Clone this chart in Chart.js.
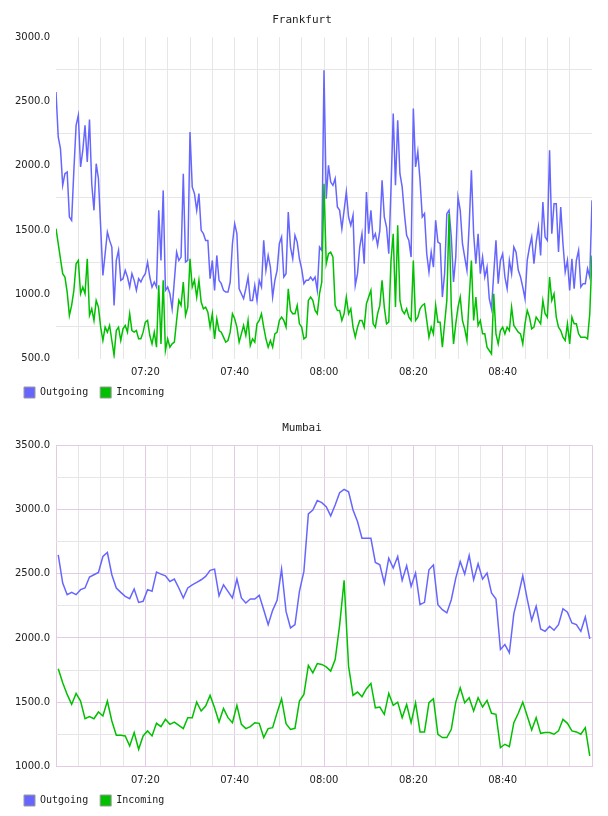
<!DOCTYPE html>
<html>
<head>
<meta charset="utf-8">
<script src="https://cdn.jsdelivr.net/npm/chart.js@4/dist/chart.umd.min.js"></script>
<style>
  html, body { margin: 0; padding: 0; background: #fff; }
  body { width: 608px; height: 816px; position: relative; overflow: hidden; }
  .box { position: absolute; left: 0; width: 608px; height: 408px; }
  #b1 { top: 0; }
  #b2 { top: 408px; }
</style>
</head>
<body>
<div class="box" id="b1"><canvas id="c1" width="608" height="408"></canvas></div>
<div class="box" id="b2"><canvas id="c2" width="608" height="408"></canvas></div>
<script>
// ---- Data ----
const seriesNames = ["Outgoing", "Incoming"];
const seriesColors = ["#6666ff", "#00c000"];
const xTickLabels = ["07:20", "07:40", "08:00", "08:20", "08:40"];

// Frankfurt: samples every 30 s starting 07:00:00
const frankfurtStart = "07:00:00";
const frankfurtStepSec = 30;
const frankfurtOutgoing = [
2574,2224,2133,1848,1938,1951,1601,1575,1964,2315,2393,1990,2120,2315,2029,2359,1860,1653,2016,1899,
1523,1147,1315,1484,1419,1367,913,1263,1341,1108,1121,1186,1134,1056,1160,1108,1030,1121,1095,1134,
1160,1250,1134,1056,1095,1056,1653,1263,1808,1030,1056,1004,887,1108,1328,1263,1289,1938,1250,1263,
2263,1835,1783,1653,1783,1497,1471,1419,1419,1121,1263,1030,1302,1108,1082,1030,1017,1017,1095,1393,
1549,1471,1043,1004,965,1043,1134,952,952,1069,952,1108,1056,1419,1186,1302,1211,978,1108,1186,
1393,1445,1134,1160,1640,1367,1276,1458,1406,1276,1198,1082,1108,1108,1134,1108,1134,1030,1367,1341,
2743,1744,2003,1873,1847,1900,1679,1653,1510,1653,1796,1601,1536,1614,1069,1160,1367,1471,1237,1796,
1471,1653,1432,1471,1380,1497,1886,1601,1523,1315,1822,2406,1848,2354,1938,1835,1627,1458,1419,1289,
2445,1990,2110,1886,1601,1627,1315,1173,1328,1211,1575,1406,1393,978,1160,1627,1653,1445,1095,1289,
1757,1653,1393,1289,1186,1536,1964,1471,1237,1471,1160,1289,1134,1211,965,887,1160,1419,1082,1263,
1315,1134,1043,1263,1160,1367,1328,1186,1134,1056,965,1263,1367,1445,1237,1406,1523,1302,1718,1445,
1419,2120,1471,1705,1705,1328,1679,1393,1173,1263,1030,1276,1043,1263,1341,1056,1082,1082,1199,1134,
1731
];
const frankfurtIncoming = [
1510,1393,1276,1160,1134,1017,835,913,1030,1237,1263,1004,1056,1004,1276,835,887,796,952,900,
744,640,744,705,757,640,524,718,744,640,731,757,705,848,718,705,718,653,653,705,
783,796,679,614,705,588,1069,614,1108,562,653,588,614,627,796,952,913,1095,835,900,
1276,1056,1108,978,1108,939,887,900,861,744,848,653,809,718,705,666,627,640,705,848,
809,744,627,692,757,679,796,601,653,627,770,796,848,744,653,588,640,588,692,705,
796,822,796,744,1043,874,848,848,913,770,744,653,666,952,978,952,874,848,1004,1095,
1860,1237,1315,1328,1289,913,874,874,796,848,978,848,887,744,666,744,796,796,744,926,
978,1030,770,744,848,913,1108,900,770,783,1263,1471,900,1536,952,874,848,887,822,796,
1263,796,822,887,913,926,796,666,744,692,913,783,783,588,770,952,1627,900,614,770,
900,978,796,731,640,965,1263,796,978,757,796,692,692,588,562,536,1004,692,614,718,
744,692,744,718,900,757,731,705,692,614,770,874,822,731,744,822,796,770,952,848,
822,1134,952,1004,822,744,718,666,640,770,614,822,770,770,692,666,666,666,653,848,
1302
];

// Mumbai: samples every 60 s starting 07:00:30
const mumbaiStart = "07:00:30";
const mumbaiStepSec = 60;
const mumbaiOutgoing = [
2647,2427,2337,2355,2337,2376,2389,2474,2492,2510,2634,2665,2492,2389,2355,2324,2306,2381,2277,2285,
2376,2363,2513,2497,2484,2440,2458,2389,2311,2389,2414,2432,2453,2479,2526,2536,2329,2414,2363,2311,
2458,2311,2272,2303,2303,2332,2220,2104,2215,2293,2536,2207,2078,2104,2363,2518,2965,2996,3069,3053,
3022,2950,3035,3131,3157,3138,2996,2906,2776,2776,2776,2588,2569,2427,2621,2544,2634,2448,2562,2401,
2505,2259,2277,2531,2569,2259,2220,2195,2298,2466,2595,2497,2642,2453,2577,2458,2505,2350,2303,1910,
1949,1884,2189,2329,2484,2303,2138,2246,2070,2052,2091,2060,2104,2228,2200,2117,2104,2052,2164,1993
];
const mumbaiIncoming = [
1760,1651,1561,1483,1569,1509,1372,1388,1372,1424,1393,1509,1354,1243,1243,1238,1160,1264,1134,1238,
1277,1238,1336,1310,1367,1328,1346,1320,1295,1380,1380,1501,1432,1470,1553,1457,1346,1452,1380,1341,
1476,1328,1295,1310,1341,1336,1225,1295,1302,1419,1527,1333,1289,1297,1509,1561,1786,1729,1801,1794,
1775,1742,1832,2100,2448,1781,1553,1579,1543,1605,1646,1457,1463,1406,1569,1476,1501,1380,1483,1341,
1496,1269,1269,1496,1527,1251,1225,1225,1289,1501,1613,1496,1535,1432,1535,1463,1514,1414,1406,1147,
1173,1155,1341,1414,1501,1393,1284,1380,1258,1264,1264,1251,1277,1367,1336,1277,1269,1251,1302,1083
];

// ---- Helpers ----
const AXIS_START_MIN = 7 * 60; // 07:00
function parseClock(s) { const p = s.split(":").map(Number); return p[0] * 60 + p[1] + (p[2] || 0) / 60; }
function toPoints(values, start, stepSec) {
  const s0 = parseClock(start) - AXIS_START_MIN;
  return values.map((v, i) => ({ x: s0 + i * stepSec / 60, y: v }));
}
function fmtClock(m) {
  const t = AXIS_START_MIN + m;
  const h = Math.floor(t / 60), mm = Math.round(t % 60);
  return String(h).padStart(2, "0") + ":" + String(mm).padStart(2, "0");
}

const TICK_FONT = { family: "'DejaVu Sans', sans-serif", size: 10 };
const MONO_FONT = { family: "'DejaVu Sans Mono', monospace", size: 10 };

function makeChart(canvasId, title, outVals, inVals, start, stepSec, yMin, yMax, style) {
  const gray = "#e6e6e6";
  const pink = "#e3cce3";
  const transparent = "rgba(0,0,0,0)";
  const ds = [
    { label: seriesNames[0], data: toPoints(outVals, start, stepSec), borderColor: seriesColors[0], backgroundColor: seriesColors[0], order: 1 },
    { label: seriesNames[1], data: toPoints(inVals, start, stepSec), borderColor: seriesColors[1], backgroundColor: seriesColors[1], order: 0 }
  ].map(d => Object.assign(d, { borderWidth: 1.5, pointRadius: 0, tension: 0, fill: false }));

  return new Chart(document.getElementById(canvasId), {
    type: "line",
    data: { datasets: ds },
    options: {
      responsive: false,
      animation: false,
      devicePixelRatio: 1,
      layout: { padding: { left: 12, right: 16, top: 0, bottom: 0 } },
      plugins: {
        tooltip: { enabled: false },
        title: {
          display: true, text: title, color: "#222",
          font: { family: "'DejaVu Sans Mono', monospace", size: 11, weight: "normal" },
          padding: { top: 14, bottom: 10 }
        },
        legend: {
          display: true, position: "bottom", align: "start",
          labels: {
            font: MONO_FONT, color: "#222", boxWidth: 11, boxHeight: 11, padding: 12,
            generateLabels: (chart) => chart.data.datasets.map((d, i) => ({
              text: d.label, fillStyle: seriesColors[i], strokeStyle: "#999999", lineWidth: 1,
              hidden: false, datasetIndex: i, fontColor: "#222"
            }))
          }
        }
      },
      scales: {
        x: {
          type: "linear", min: 0, max: 120,
          afterFit: (s) => { s.height = 16.5; },
          border: { display: false },
          grid: {
            drawTicks: false, lineWidth: 1,
            color: (c) => {
              const v = c.tick ? c.tick.value : 0;
              if (style === "frankfurt") return (v <= 0 || v >= 120) ? transparent : gray;
              return (v % 20 === 0) ? pink : gray;
            }
          },
          ticks: {
            stepSize: 5, autoSkip: false, maxRotation: 0, padding: 8, color: "#222", font: TICK_FONT,
            callback: (v) => {
              const lbl = fmtClock(v);
              return xTickLabels.includes(lbl) && v % 20 === 0 ? lbl : "";
            }
          }
        },
        y: {
          min: yMin, max: yMax,
          afterFit: (s) => { s.width = 44; },
          border: { display: false },
          grid: {
            drawTicks: false, lineWidth: 1,
            color: (c) => {
              const v = c.tick ? c.tick.value : 0;
              if (style === "frankfurt") return (v % 500 === 0) ? transparent : gray;
              return (v % 500 === 0) ? pink : gray;
            }
          },
          ticks: {
            stepSize: 250, autoSkip: false, padding: 6, color: "#222", font: TICK_FONT,
            callback: (v) => (v % 500 === 0 ? v.toFixed(1) : "")
          }
        }
      }
    }
  });
}

makeChart("c1", "Frankfurt", frankfurtOutgoing, frankfurtIncoming, frankfurtStart, frankfurtStepSec, 500, 3000, "frankfurt");
makeChart("c2", "Mumbai", mumbaiOutgoing, mumbaiIncoming, mumbaiStart, mumbaiStepSec, 1000, 3500, "mumbai");
</script>
</body>
</html>
